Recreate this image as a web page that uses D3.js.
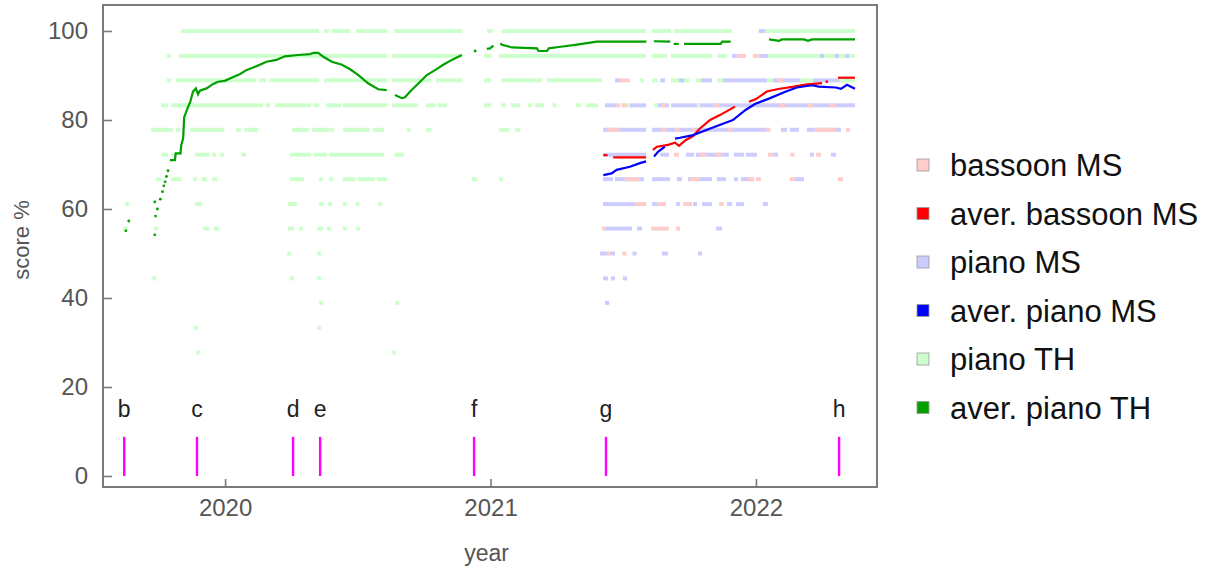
<!DOCTYPE html>
<html>
<head>
<meta charset="utf-8">
<script src="https://cdn.jsdelivr.net/npm/d3@7"></script>
<style>
  body { margin: 0; background: #fff; }
  svg { display: block; font-family: "Liberation Sans", Arial, sans-serif; }
</style>
</head>
<body>
<svg id="chart" width="1213" height="570"></svg>
<script>
// score levels are steps of 1/18; each run is [score, fromYear, toYear]
const pianoTH = [
  [100, 2019.834, 2020.354], [100, 2020.373, 2020.392], [100, 2020.403, 2020.471], [100, 2020.493, 2020.610],
  [100, 2020.637, 2020.893], [100, 2020.987, 2021.009], [100, 2021.043, 2021.586], [100, 2021.608, 2021.680],
  [100, 2021.691, 2021.910], [100, 2022.034, 2022.373],
  [94.4, 2019.781, 2019.797], [94.4, 2019.827, 2020.610], [94.4, 2020.629, 2020.893], [94.4, 2020.975, 2021.006],
  [94.4, 2021.032, 2021.586], [94.4, 2021.608, 2021.665], [94.4, 2021.680, 2021.834], [94.4, 2021.853, 2021.891],
  [94.4, 2022.045, 2022.373],
  [88.9, 2019.781, 2019.797], [88.9, 2019.815, 2020.117], [88.9, 2020.128, 2020.154], [88.9, 2020.166, 2020.354],
  [88.9, 2020.373, 2020.610], [88.9, 2020.629, 2020.776], [88.9, 2020.795, 2020.893], [88.9, 2020.975, 2021.002],
  [88.9, 2021.040, 2021.194], [88.9, 2021.213, 2021.420], [88.9, 2021.563, 2021.578], [88.9, 2021.608, 2021.631],
  [88.9, 2021.680, 2021.721], [88.9, 2021.729, 2021.748], [88.9, 2021.774, 2021.793], [88.9, 2021.853, 2021.876],
  [88.9, 2022.041, 2022.064], [88.9, 2022.166, 2022.215], [88.9, 2022.316, 2022.373],
  [83.3, 2019.759, 2019.785], [83.3, 2019.797, 2020.143], [83.3, 2020.154, 2020.169], [83.3, 2020.188, 2020.324],
  [83.3, 2020.335, 2020.354], [83.3, 2020.380, 2020.437], [83.3, 2020.444, 2020.610], [83.3, 2020.629, 2020.727],
  [83.3, 2020.757, 2020.791], [83.3, 2020.802, 2020.836], [83.3, 2020.975, 2021.002], [83.3, 2021.040, 2021.058],
  [83.3, 2021.077, 2021.111], [83.3, 2021.141, 2021.156], [83.3, 2021.168, 2021.202], [83.3, 2021.235, 2021.247],
  [83.3, 2021.322, 2021.341], [83.3, 2021.360, 2021.405], [83.3, 2021.514, 2021.525], [83.3, 2021.616, 2021.631],
  [83.3, 2021.778, 2021.789],
  [77.8, 2019.721, 2019.804], [77.8, 2019.815, 2019.830], [77.8, 2019.868, 2019.996], [77.8, 2020.041, 2020.060],
  [77.8, 2020.072, 2020.124], [77.8, 2020.252, 2020.316], [77.8, 2020.328, 2020.411], [77.8, 2020.444, 2020.546],
  [77.8, 2020.557, 2020.599], [77.8, 2020.685, 2020.700], [77.8, 2020.757, 2020.776], [77.8, 2021.032, 2021.070],
  [77.8, 2021.092, 2021.111],
  [72.2, 2019.759, 2019.785], [72.2, 2019.797, 2019.815], [72.2, 2019.887, 2019.940], [72.2, 2019.951, 2019.966],
  [72.2, 2019.981, 2019.996], [72.2, 2020.060, 2020.079], [72.2, 2020.245, 2020.324], [72.2, 2020.335, 2020.384],
  [72.2, 2020.392, 2020.599], [72.2, 2020.637, 2020.674],
  [66.7, 2019.740, 2019.759], [66.7, 2019.797, 2019.834], [66.7, 2019.879, 2019.894], [66.7, 2019.913, 2019.932],
  [66.7, 2019.951, 2019.970], [66.7, 2020.245, 2020.298], [66.7, 2020.354, 2020.369], [66.7, 2020.392, 2020.407],
  [66.7, 2020.444, 2020.490], [66.7, 2020.501, 2020.565], [66.7, 2020.572, 2020.610], [66.7, 2020.930, 2020.949],
  [66.7, 2021.032, 2021.047],
  [61.1, 2019.623, 2019.638], [61.1, 2019.887, 2019.913], [61.1, 2020.237, 2020.271], [61.1, 2020.354, 2020.373],
  [61.1, 2020.388, 2020.403], [61.1, 2020.444, 2020.459], [61.1, 2020.493, 2020.505], [61.1, 2020.576, 2020.591],
  [55.6, 2019.616, 2019.635], [55.6, 2019.733, 2019.748], [55.6, 2019.917, 2019.940], [55.6, 2019.958, 2019.977],
  [55.6, 2020.237, 2020.260], [55.6, 2020.279, 2020.294], [55.6, 2020.347, 2020.369], [55.6, 2020.384, 2020.399],
  [55.6, 2020.444, 2020.459], [55.6, 2020.493, 2020.508],
  [50, 2020.241, 2020.241], [50, 2020.354, 2020.354],
  [44.4, 2019.733, 2019.733], [44.4, 2020.252, 2020.252], [44.4, 2020.354, 2020.354],
  [38.9, 2020.362, 2020.362], [38.9, 2020.648, 2020.648],
  [33.3, 2019.891, 2019.891], [33.3, 2020.354, 2020.354],
  [27.8, 2019.898, 2019.898], [27.8, 2020.637, 2020.637]
];

const pianoMS = [
  [100, 2022.011, 2022.034],
  [94.4, 2021.910, 2021.928], [94.4, 2022.015, 2022.045], [94.4, 2022.249, 2022.249], [94.4, 2022.305, 2022.305],
  [94.4, 2022.343, 2022.343],
  [88.9, 2021.469, 2021.488], [88.9, 2021.639, 2021.657], [88.9, 2021.710, 2021.729], [88.9, 2021.793, 2021.834],
  [88.9, 2021.876, 2022.041], [88.9, 2022.064, 2022.166], [88.9, 2022.215, 2022.316],
  [83.3, 2021.431, 2021.476], [83.3, 2021.525, 2021.586], [83.3, 2021.631, 2021.672], [83.3, 2021.680, 2021.778],
  [83.3, 2021.789, 2022.373],
  [77.8, 2021.424, 2021.586], [77.8, 2021.608, 2022.049], [77.8, 2022.094, 2022.117], [77.8, 2022.128, 2022.162],
  [77.8, 2022.192, 2022.320],
  [72.2, 2021.424, 2021.586], [72.2, 2021.639, 2021.672], [72.2, 2021.736, 2021.767], [72.2, 2021.774, 2021.898],
  [72.2, 2021.917, 2021.955], [72.2, 2021.962, 2022.004], [72.2, 2022.068, 2022.083], [72.2, 2022.203, 2022.218],
  [72.2, 2022.283, 2022.301],
  [66.7, 2021.424, 2021.461], [66.7, 2021.469, 2021.578], [66.7, 2021.608, 2021.676], [66.7, 2021.702, 2021.721],
  [66.7, 2021.744, 2021.834], [66.7, 2021.853, 2021.887], [66.7, 2021.917, 2021.932], [66.7, 2021.943, 2021.993],
  [66.7, 2022.147, 2022.181],
  [61.1, 2021.424, 2021.544], [61.1, 2021.608, 2021.627], [61.1, 2021.699, 2021.714], [61.1, 2021.763, 2021.778],
  [61.1, 2021.797, 2021.834], [61.1, 2021.891, 2021.910], [61.1, 2021.925, 2021.955], [61.1, 2022.026, 2022.045],
  [55.6, 2021.431, 2021.533], [55.6, 2021.552, 2021.571], [55.6, 2021.849, 2021.872],
  [50, 2021.412, 2021.439], [50, 2021.450, 2021.469], [50, 2021.537, 2021.548], [50, 2021.646, 2021.669],
  [50, 2021.782, 2021.797],
  [44.4, 2021.424, 2021.443], [44.4, 2021.454, 2021.469], [44.4, 2021.499, 2021.514],
  [38.9, 2021.439, 2021.439]
];

const bassoonMS = [
  [94.4, 2021.928, 2021.962], [94.4, 2021.989, 2022.015],
  [88.9, 2021.488, 2021.525], [88.9, 2022.083, 2022.102],
  [83.3, 2021.476, 2021.488], [83.3, 2021.495, 2021.514], [83.3, 2021.646, 2021.657], [83.3, 2021.838, 2021.864],
  [83.3, 2022.090, 2022.109], [83.3, 2022.192, 2022.215], [83.3, 2022.279, 2022.298],
  [77.8, 2021.439, 2021.484], [77.8, 2021.646, 2021.657], [77.8, 2021.695, 2021.710], [77.8, 2021.759, 2021.770],
  [77.8, 2021.898, 2021.910], [77.8, 2022.041, 2022.053], [77.8, 2022.222, 2022.298], [77.8, 2022.339, 2022.354],
  [72.2, 2021.691, 2021.710], [72.2, 2021.789, 2021.812], [72.2, 2021.849, 2021.872], [72.2, 2022.045, 2022.068],
  [72.2, 2022.132, 2022.143], [72.2, 2022.226, 2022.245],
  [66.7, 2021.507, 2021.563], [66.7, 2021.751, 2021.789], [66.7, 2021.970, 2021.993], [66.7, 2022.000, 2022.019],
  [66.7, 2022.128, 2022.147], [66.7, 2022.309, 2022.328],
  [61.1, 2021.544, 2021.586], [61.1, 2021.627, 2021.661], [61.1, 2021.725, 2021.759], [61.1, 2021.861, 2021.879],
  [55.6, 2021.424, 2021.431], [55.6, 2021.605, 2021.672], [55.6, 2021.699, 2021.714],
  [50, 2021.439, 2021.450], [50, 2021.499, 2021.510]
];

// running averages, one array per unbroken stretch: [year, score]
const averPianoTH = [
  [[2019.626, 55.1]], [[2019.637, 57.3]], [[2019.735, 54.2]], [[2019.738, 58.4]], [[2019.745, 60.0]],
  [[2019.735, 61.6]], [[2019.756, 62.2]], [[2019.764, 63.9]], [[2019.769, 65.2]], [[2019.774, 66.1]],
  [[2019.779, 67.3]], [[2019.785, 68.6]],
  [[2019.792, 71.0], [2019.811, 71.0], [2019.814, 72.5], [2019.832, 72.5], [2019.835, 74.4], [2019.842, 75.9],
   [2019.846, 80.7], [2019.854, 81.9], [2019.861, 83.0], [2019.869, 84.1], [2019.879, 86.4], [2019.890, 87.1],
   [2019.898, 85.8], [2019.905, 86.6], [2019.930, 87.1], [2019.955, 88.1], [2019.974, 88.6], [2019.999, 88.8],
   [2020.024, 89.5], [2020.055, 90.3], [2020.080, 91.2], [2020.118, 92.1], [2020.156, 93.1], [2020.193, 93.5],
   [2020.225, 94.3], [2020.275, 94.6], [2020.320, 94.8], [2020.333, 95.1], [2020.351, 95.1], [2020.370, 94.2],
   [2020.402, 93.1], [2020.440, 92.4], [2020.471, 91.4], [2020.502, 90.1], [2020.540, 88.2], [2020.577, 86.9],
   [2020.609, 86.7]],
  [[2020.640, 85.6], [2020.666, 84.9], [2020.678, 85.1], [2020.697, 86.4], [2020.728, 88.2], [2020.760, 90.1],
   [2020.791, 91.2], [2020.822, 92.4], [2020.854, 93.5], [2020.892, 94.6]],
  [[2020.942, 95.5]],
  [[2020.986, 96.0], [2020.998, 96.1], [2021.011, 96.7]],
  [[2021.037, 97.2], [2021.043, 96.9], [2021.081, 96.3], [2021.175, 96.1], [2021.181, 95.5], [2021.213, 95.5],
   [2021.219, 96.1], [2021.257, 96.4], [2021.319, 96.9], [2021.401, 97.6], [2021.587, 97.6]],
  [[2021.615, 97.7], [2021.677, 97.6]],
  [[2021.690, 97.1], [2021.709, 97.1]],
  [[2021.729, 97.1], [2021.867, 97.1], [2021.873, 97.6], [2021.905, 97.6]],
  [[2022.049, 98.1], [2022.087, 97.8], [2022.098, 98.1], [2022.181, 98.1], [2022.196, 97.8], [2022.211, 98.1],
   [2022.373, 98.1]]
];

const averBassoonMS = [
  [[2021.425, 72.1], [2021.441, 72.1]],
  [[2021.462, 71.6], [2021.586, 71.6]],
  [[2021.612, 73.3], [2021.627, 74.0], [2021.669, 74.4], [2021.695, 74.9], [2021.710, 74.2], [2021.736, 75.5],
   [2021.763, 76.4], [2021.789, 78.1], [2021.827, 80.0], [2021.864, 81.1], [2021.921, 83.0]],
  [[2021.974, 84.1], [2022.000, 84.7], [2022.041, 86.4], [2022.079, 86.9], [2022.143, 87.5], [2022.192, 88.0],
   [2022.249, 88.3]],
  [[2022.267, 88.6]],
  [[2022.309, 89.5], [2022.373, 89.5]]
];

const averPianoMS = [
  [[2021.425, 67.6], [2021.456, 68.0], [2021.475, 68.8], [2021.525, 69.5], [2021.563, 70.3], [2021.586, 70.7]],
  [[2021.616, 71.8], [2021.632, 72.9], [2021.657, 74.0]],
  [[2021.695, 75.8], [2021.714, 76.0], [2021.763, 76.6], [2021.838, 78.3], [2021.913, 80.0], [2021.962, 82.3],
   [2021.996, 83.6], [2022.049, 84.8], [2022.113, 86.4], [2022.154, 87.3], [2022.211, 87.8], [2022.237, 87.5],
   [2022.301, 87.3], [2022.320, 87.0], [2022.343, 87.9], [2022.373, 87.0]]
];

const eventNames = ['b', 'c', 'd', 'e', 'f', 'g', 'h'];
const eventYears = [2019.620, 2019.894, 2020.256, 2020.358, 2020.938, 2021.435, 2022.313];

const yearTicks = [2020, 2021, 2022];
const scoreTicks = [0, 20, 40, 60, 80, 100];

const legendNames = ['bassoon MS', 'aver. bassoon MS', 'piano MS', 'aver. piano MS', 'piano TH', 'aver. piano TH'];
const legendColors = ['#ffcccc', '#ff0000', '#ccccff', '#0000ff', '#ccffcc', '#00a000'];

const svg = d3.select('#chart');
const margin = { top: 5, right: 336, bottom: 83, left: 103 };
const width = 1213, height = 570;

const x = d3.scaleLinear()
  .domain([2019.540, 2022.456])
  .range([margin.left, width - margin.right]);

const y = d3.scaleLinear()
  .domain([-2.47, 105.84])
  .range([height - margin.bottom, margin.top]);

svg.append('rect').attr('width', width).attr('height', height).attr('fill', '#fff');

// light score runs, at least one 4px point wide
function drawRuns(data, color) {
  svg.append('g')
    .selectAll('rect')
    .data(data)
    .enter()
    .append('rect')
    .attr('x', d => (x(d[1]) + x(d[2])) / 2 - Math.max(4, x(d[2]) - x(d[1])) / 2)
    .attr('y', d => y(d[0]) - 2)
    .attr('width', d => Math.max(4, x(d[2]) - x(d[1])))
    .attr('height', 4)
    .attr('fill', color);
}
drawRuns(pianoTH, '#ccffcc');
drawRuns(pianoMS, '#ccccff');
drawRuns(bassoonMS, '#ffcccc');

// averages
const line = d3.line()
  .x(d => x(d[0]))
  .y(d => y(d[1]));

function drawAverage(segments, color) {
  const g = svg.append('g');
  g.selectAll('path')
    .data(segments.filter(s => s.length > 1))
    .enter()
    .append('path')
    .attr('d', line)
    .attr('fill', 'none')
    .attr('stroke', color)
    .attr('stroke-width', 2.2);
  g.selectAll('circle')
    .data(segments.filter(s => s.length === 1))
    .enter()
    .append('circle')
    .attr('cx', d => x(d[0][0]))
    .attr('cy', d => y(d[0][1]))
    .attr('r', 1.4)
    .attr('fill', color);
}
drawAverage(averBassoonMS, '#ff0000');
drawAverage(averPianoMS, '#0000ff');
drawAverage(averPianoTH, '#00a000');

// event markers
const ev = svg.append('g');
ev.selectAll('line')
  .data(eventYears)
  .enter()
  .append('line')
  .attr('x1', d => x(d))
  .attr('x2', d => x(d))
  .attr('y1', y(0))
  .attr('y2', y(8.8))
  .attr('stroke', '#ff00ff')
  .attr('stroke-width', 2.4);
ev.selectAll('text')
  .data(eventYears)
  .enter()
  .append('text')
  .attr('x', d => x(d))
  .attr('y', y(13.3))
  .attr('text-anchor', 'middle')
  .attr('font-size', 23)
  .attr('fill', '#222')
  .text((d, i) => eventNames[i]);

// axes
const yAxis = d3.axisLeft(y).tickValues(scoreTicks).tickSize(-9).tickPadding(15);
const xAxis = d3.axisBottom(x).tickValues(yearTicks).tickFormat(d3.format('d')).tickSize(-8).tickPadding(12);

const gy = svg.append('g').attr('transform', `translate(${margin.left},0)`).call(yAxis);
const gx = svg.append('g').attr('transform', `translate(0,${height - margin.bottom})`).call(xAxis);
[gx, gy].forEach(g => {
  g.select('.domain').remove();
  g.selectAll('line').attr('stroke', '#7a7a7a').attr('stroke-width', 1.6);
  g.selectAll('text').attr('font-size', 24).attr('fill', '#555').attr('font-family', '"Liberation Sans", Arial, sans-serif');
});

svg.append('rect')
  .attr('x', margin.left)
  .attr('y', margin.top)
  .attr('width', width - margin.left - margin.right)
  .attr('height', height - margin.top - margin.bottom)
  .attr('fill', 'none')
  .attr('stroke', '#7a7a7a')
  .attr('stroke-width', 2);

svg.append('text')
  .attr('x', x(2020.985))
  .attr('y', 561)
  .attr('text-anchor', 'middle')
  .attr('font-size', 23)
  .attr('fill', '#555')
  .text('year');

svg.append('text')
  .attr('transform', 'translate(29,240) rotate(-90)')
  .attr('text-anchor', 'middle')
  .attr('font-size', 22)
  .attr('fill', '#555')
  .text('score %');

// legend
const legend = svg.append('g').attr('transform', 'translate(917,165)');
const item = legend.selectAll('g')
  .data(legendNames)
  .enter()
  .append('g')
  .attr('transform', (d, i) => `translate(0,${i * 48.5})`);
item.append('rect')
  .attr('x', 0)
  .attr('y', -6)
  .attr('width', 12)
  .attr('height', 12)
  .attr('fill', (d, i) => legendColors[i])
  .attr('stroke', '#999')
  .attr('stroke-width', 0.8);
item.append('text')
  .attr('x', 33)
  .attr('y', 11)
  .attr('font-size', 31)
  .attr('fill', '#111')
  .text(d => d);
</script>
</body>
</html>
